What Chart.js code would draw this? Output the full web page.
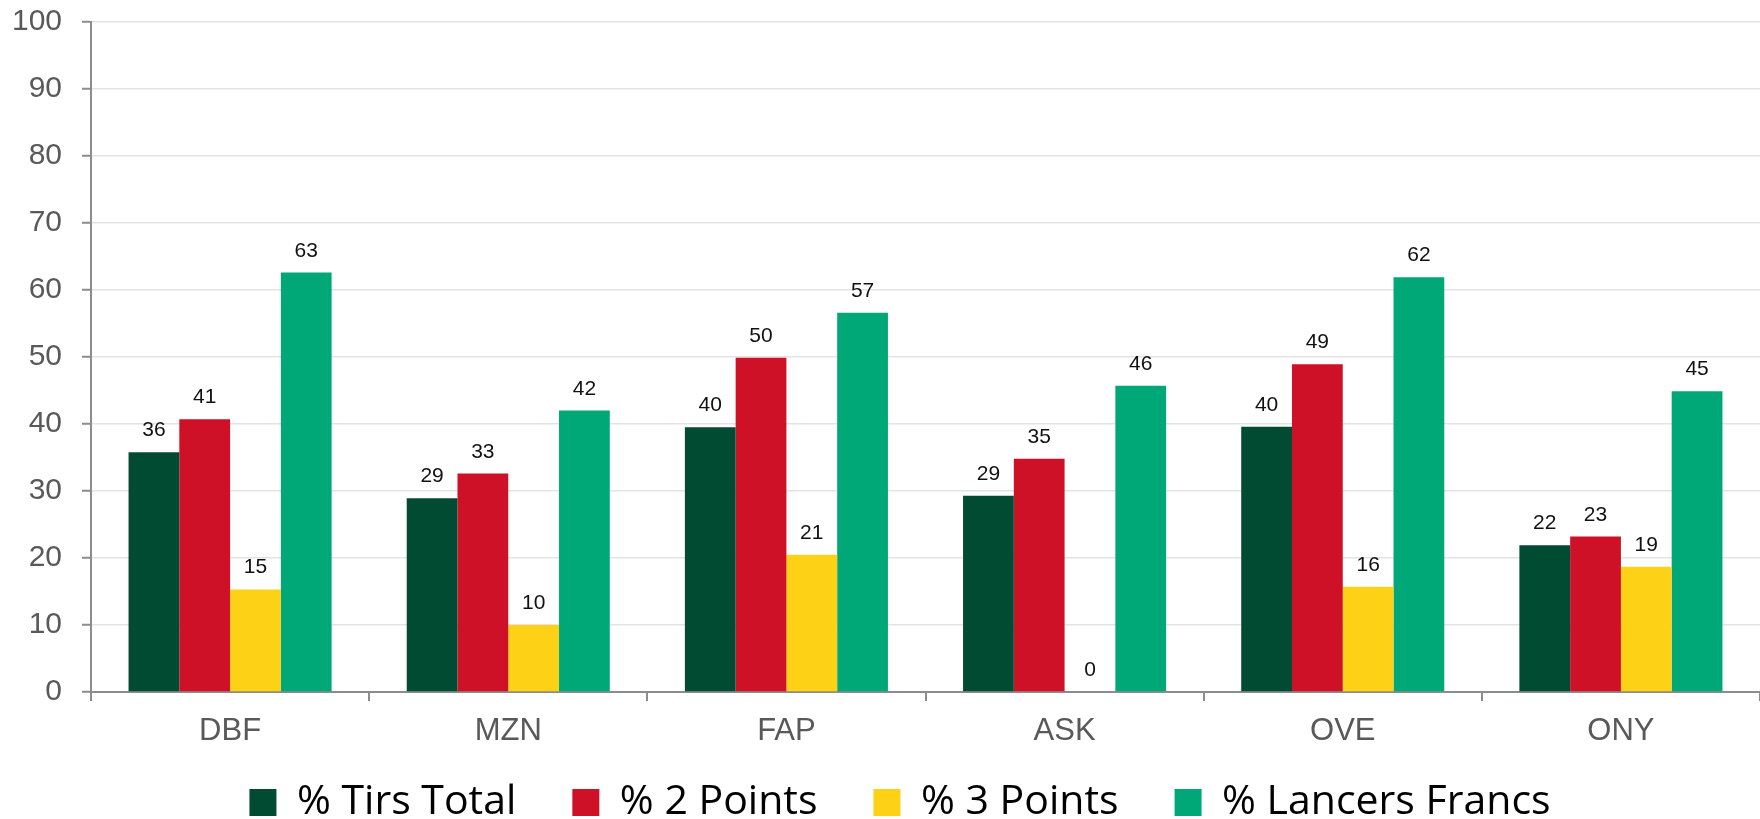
<!DOCTYPE html>
<html>
<head>
<meta charset="utf-8">
<script src="https://cdn.jsdelivr.net/npm/chart.js@4"></script>
<style>
  html, body { margin:0; padding:0; background:#fff; overflow:hidden; }
  #wrap { width:1760px; height:819px; position:relative; }
</style>
</head>
<body>
<div id="wrap"><canvas id="shotChart"></canvas></div>
<script>
// team codes + shooting percentages
const teams = ['DBF', 'MZN', 'FAP', 'ASK', 'OVE', 'ONY'];
const tirsTotal = [35.8, 28.9, 39.5, 29.3, 39.6, 21.9];
const deuxPoints = [40.7, 32.6, 49.9, 34.8, 48.9, 23.2];
const troisPoints = [15.3, 10.0, 20.5, 0, 15.7, 18.7];
const lancersFrancs = [62.6, 42.0, 56.6, 45.7, 61.9, 44.9];
const yTicks = [0, 10, 20, 30, 40, 50, 60, 70, 80, 90, 100];

const axisGrey = '#8c8c8c';
const textGrey = '#595959';

// little plugin: value above every bar
const valueLabels = {
  id: 'valueLabels',
  afterDatasetsDraw(chart){
    const ctx = chart.ctx;
    ctx.save();
    ctx.font = '21px "Liberation Sans", Arial, sans-serif';
    ctx.fillStyle = '#111';
    ctx.textAlign = 'center';
    ctx.textBaseline = 'alphabetic';
    chart.data.datasets.forEach((ds, i) => {
      const meta = chart.getDatasetMeta(i);
      meta.data.forEach((bar, j) => {
        ctx.fillText(String(Math.round(ds.data[j])), bar.x, bar.y - 16);
      });
    });
    ctx.restore();
  }
};

// legend sits tighter under the axis and a bit to the right, like the excel original
const legendTweak = {
  id: 'legendTweak',
  beforeInit(chart){
    const lg = chart.legend;
    const fit = lg.fit;
    lg.fit = function(){ fit.call(this); this.height = 69; };
    const draw = lg.draw;
    lg.draw = function(){
      const t = this.top, l = this.left, r = this.right;
      this.top = t - 24; this.left = l + 20; this.right = r + 20;
      draw.call(this);
      this.top = t; this.left = l; this.right = r;
    };
  }
};

new Chart(document.getElementById('shotChart'), {
  type: 'bar',
  data: {
    labels: teams,
    datasets: [
      { label: '% Tirs Total', data: tirsTotal, backgroundColor: '#004b32' },
      { label: '% 2 Points', data: deuxPoints, backgroundColor: '#ce1126' },
      { label: '% 3 Points', data: troisPoints, backgroundColor: '#fcd116' },
      { label: '% Lancers Francs', data: lancersFrancs, backgroundColor: '#00a878' }
    ]
  },
  options: {
    responsive: true,
    maintainAspectRatio: false,
    animation: false,
    layout: { padding: 0 },
    datasets: { bar: { categoryPercentage: 0.73, barPercentage: 1.0 } },
    plugins: {
      tooltip: { enabled: false },
      legend: {
        position: 'bottom',
        labels: {
          font: { family: '"Open Sans", sans-serif', size: 41 },
          color: '#000',
          boxWidth: 27,
          boxHeight: 27,
          padding: 56
        }
      }
    },
    scales: {
      x: {
        afterFit(scale){ scale.height = 58; },
        grid: { drawOnChartArea: false, offset: true, tickLength: 9, color: axisGrey, lineWidth: 2 },
        border: { color: axisGrey, width: 2 },
        ticks: { color: textGrey, font: { family: '"Liberation Sans", Arial, sans-serif', size: 31 }, padding: 12 }
      },
      y: {
        min: 0,
        max: 100,
        afterBuildTicks(scale){ scale.ticks = yTicks.map(v => ({ value: v })); },
        afterFit(scale){ scale.width = 91; scale.paddingTop = 22; },
        grid: { color: '#e3e3e3', lineWidth: 1.5, tickLength: 9, tickColor: axisGrey, tickWidth: 2 },
        border: { color: axisGrey, width: 2 },
        ticks: { color: textGrey, font: { family: '"Liberation Sans", Arial, sans-serif', size: 30 }, padding: 20 }
      }
    }
  },
  plugins: [valueLabels, legendTweak]
});
</script>
</body>
</html>
